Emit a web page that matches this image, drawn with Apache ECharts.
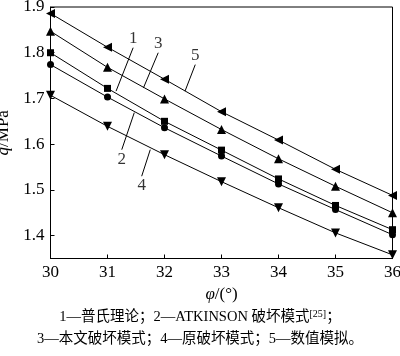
<!DOCTYPE html>
<html><head><meta charset="utf-8">
<script src="https://cdn.jsdelivr.net/npm/echarts@6/dist/echarts.min.js"></script>
<style>html,body{margin:0;padding:0;background:#fff}#c{width:400px;height:356px}</style>
</head><body><div id="c"></div>
<script>
const phi = [30, 31, 32, 33, 34, 35, 36];
const s1 = [1.800, 1.722, 1.650, 1.587, 1.524, 1.466, 1.413]; // 普氏理论
const s2 = [1.774, 1.703, 1.636, 1.574, 1.513, 1.457, 1.402]; // ATKINSON
const s3 = [1.847, 1.768, 1.699, 1.632, 1.568, 1.508, 1.450]; // 本文破坏模式
const s4 = [1.707, 1.639, 1.577, 1.518, 1.461, 1.406, 1.358]; // 原破坏模式
const s5 = [1.886, 1.812, 1.742, 1.671, 1.609, 1.545, 1.488]; // 数值模拟
const yTicks = [1.4, 1.5, 1.6, 1.7, 1.8, 1.9];
const xTicks = [30, 31, 32, 33, 34, 35, 36];
// leader annotations: label, start point (near label), end point (on curve), in data coords
const notes = [
  {name:'1', from:[31.45, 1.811], to:[31.15, 1.716], pos:'top'},
  {name:'3', from:[31.89, 1.800], to:[31.63, 1.723], pos:'top'},
  {name:'5', from:[32.54, 1.774], to:[32.36, 1.716], pos:'top'},
  {name:'2', from:[31.25, 1.588], to:[31.47, 1.669], pos:'bottom'},
  {name:'4', from:[31.60, 1.530], to:[31.75, 1.588], pos:'bottom'}
];
const serif = '"Liberation Serif", "DejaVu Serif", serif';
const cjk = '"Liberation Serif", "Noto Sans CJK SC", serif';

const chart = echarts.init(document.getElementById('c'), null, {renderer:'canvas'});
function mk(data, symbol, size, rot){
  return {type:'line', data: phi.map((x,i)=>[x, data[i]]), symbol, symbolSize:size, symbolRotate:rot||0,
    lineStyle:{color:'#000', width:1}, itemStyle:{color:'#000'}, showAllSymbol:true, clip:false, animation:false, z:3};
}
const series = [
  mk(s5, 'triangle', 9, 90),
  mk(s3, 'triangle', 9, 0),
  mk(s1, 'rect', 7, 0),
  mk(s2, 'circle', 7, 0),
  mk(s4, 'triangle', 9, 180)
];
series.push({
  type:'lines', coordinateSystem:'cartesian2d', animation:false, z:2,
  lineStyle:{color:'#000', width:1, opacity:1},
  data: notes.map(n=>({coords:[n.from, n.to]}))
});
series.push({
  type:'scatter', animation:false, symbolSize:0, z:4,
  data: notes.map(n=>({value:n.from, name:n.name, label:{position:n.pos}})),
  label:{show:true, formatter:p=>p.name, fontFamily:serif, fontSize:17, color:'#000', distance:1}
});
chart.setOption({
  animation:false,
  grid:{left:50.5, right:7.5, top:7, bottom:97.5, show:true, borderColor:'#000', borderWidth:1,
    containLabel:false, outerBoundsMode:'none'},
  xAxis:{type:'value', min:30, max:36, interval:1,
    name:'{i|φ}/(°)', nameLocation:'middle', nameGap:28,
    nameTextStyle:{fontFamily:serif, fontSize:17, color:'#000', rich:{i:{fontStyle:'italic', fontFamily:serif, fontSize:17}}},
    axisLine:{lineStyle:{color:'#000', width:1}},
    axisTick:{inside:true, length:4, lineStyle:{color:'#000'}},
    axisLabel:{fontFamily:serif, fontSize:17, color:'#000', margin:6, formatter:v=>xTicks.includes(v)?String(v):''},
    splitLine:{show:false}},
  yAxis:{type:'value', min:1.35, max:1.9, splitNumber:5,
    name:'{i|q}/MPa', nameLocation:'middle', nameGap:37, nameRotate:90,
    nameTextStyle:{fontFamily:serif, fontSize:17, color:'#000', rich:{i:{fontStyle:'italic', fontFamily:serif, fontSize:17}}},
    axisLine:{lineStyle:{color:'#000', width:1}},
    axisTick:{inside:true, length:4, lineStyle:{color:'#000'}},
    axisLabel:{fontFamily:serif, fontSize:17, color:'#000', margin:6, showMinLabel:false,
      formatter:v=>{const t=yTicks.find(k=>Math.abs(k-v)<1e-6);return t!==undefined?t.toFixed(1):'';}},
    splitLine:{show:false}},
  graphic:[
    {type:'text', left:'center', top:309, style:{text:'1—普氏理论；2—ATKINSON 破坏模式{s|[25]}；', fill:'#000',
      font:'14.5px '+cjk, rich:{s:{fontSize:10, fontFamily:serif, verticalAlign:'top', padding:[0,0,7,0]}}}},
    {type:'text', left:'center', top:332, style:{text:'3—本文破坏模式；4—原破坏模式；5—数值模拟。', fill:'#000',
      font:'14.5px '+cjk}}
  ],
  series
});
</script></body></html>
